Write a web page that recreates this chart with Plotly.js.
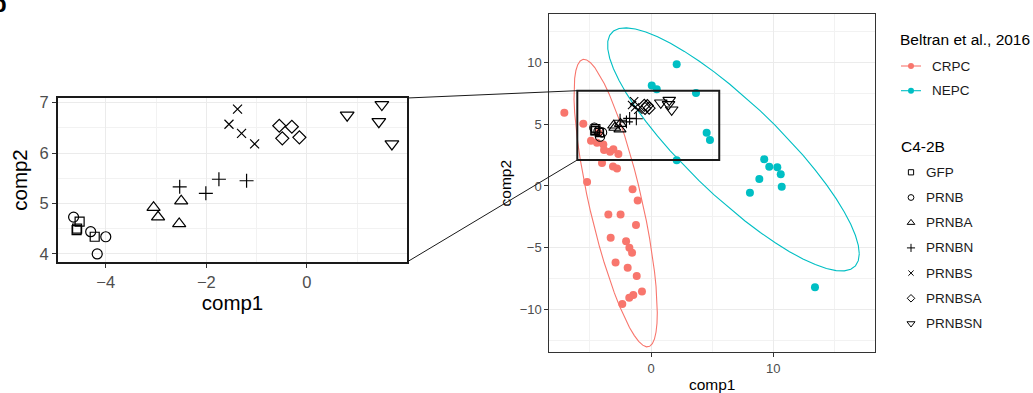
<!DOCTYPE html>
<html><head><meta charset="utf-8">
<script src="https://cdn.plot.ly/plotly-3.0.1.min.js"></script>
<style>html,body{margin:0;padding:0;background:#fff}#chart{width:1033px;height:393px}</style>
</head><body><div id="chart"></div>
<script>
// ---------------- data (the last CRPC point sits under the C4-2B markers) ----------------
const crpcComp1 = [-7.09,-5.54,-4.91,-4.42,-3.90,-3.84,-3.35,-3.08,-2.67,-4.01,-3.11,-2.78,-5.23,-1.51,-1.09,-3.49,-2.49,-1.23,-3.30,-2.04,-1.77,-1.55,-2.90,-1.91,-1.17,-0.74,-1.45,-1.78,-2.35,-4.30];
const crpcComp2 = [5.94,5.05,3.67,3.51,3.37,2.92,2.78,2.98,2.60,1.87,1.58,1.42,0.32,-0.27,-1.18,-2.31,-2.31,-3.16,-4.19,-4.49,-5.00,-5.41,-6.20,-6.63,-7.30,-8.56,-8.84,-9.06,-9.57,4.30];
const nepcComp1 = [2.10,0.06,0.47,3.68,4.55,4.82,2.10,9.26,9.67,10.33,10.61,8.86,10.69,8.09,13.41];
const nepcComp2 = [9.87,8.15,7.84,7.54,4.32,3.73,2.08,2.17,1.57,1.52,0.95,0.57,-0.06,-0.54,-8.22];

const c42bGroups = ['GFP','PRNB','PRNBA','PRNBN','PRNBS','PRNBSA','PRNBSN'];
const gfpComp1    = [-4.52,-4.58,-4.57,-4.22];
const gfpComp2    = [4.64,4.47,4.50,4.34];
const prnbComp1   = [-4.64,-4.30,-4.00,-4.17];
const prnbComp2   = [4.73,4.44,4.34,4.00];
const prnbaComp1  = [-3.05,-2.96,-2.50,-2.54];
const prnbaComp2  = [4.92,4.73,5.05,4.60];
const prnbnComp1  = [-2.53,-2.01,-1.75,-1.20];
const prnbnComp2  = [5.33,5.20,5.48,5.45];
const prnbsComp1  = [-1.55,-1.38,-1.30,-1.04];
const prnbsComp2  = [6.57,6.87,6.39,6.18];
const prnbsaComp1 = [-0.55,-0.49,-0.30,-0.15];
const prnbsaComp2 = [6.54,6.29,6.52,6.31];
const prnbsnComp1 = [0.80,1.49,1.43,1.69];
const prnbsnComp2 = [6.75,6.96,6.62,6.18];

const beltranGroups = ['CRPC','NEPC'];
const zoomBoxComp1 = [-6.03, 5.58];
const zoomBoxComp2 = [2.11, 7.73];

// ---------------- styling ----------------
const W = 1033, H = 393;
const RED = '#F8766D', TEAL = '#00BFC4';
const FONT = 'Liberation Sans, Arial, sans-serif';
const groupX = [gfpComp1, prnbComp1, prnbaComp1, prnbnComp1, prnbsComp1, prnbsaComp1, prnbsnComp1];
const groupY = [gfpComp2, prnbComp2, prnbaComp2, prnbnComp2, prnbsComp2, prnbsaComp2, prnbsnComp2];
const symbols = ['square-open','circle-open','triangle-up-open','cross-thin-open','x-thin-open','diamond-open','triangle-down-open'];
const symSize = [9,10,11.5,10,9,10,12];

const dom = {
  x1: [58/W, 407/W], y1: [1-262/H, 1-98/H],
  x2: [549.3/W, 875/W], y2: [1-352.3/H, 1-14/H]
};
const rng = { x1: [-4.95, 1.99], y1: [3.84, 7.09], x2: [-8.32, 18.32], y2: [-13.49, 13.95] };

// ---------------- stat_ellipse (type "t", level 0.95) ----------------
function covTrob(xs, ys, nu, maxit, tol) {
  nu = nu || 5; maxit = maxit || 25; tol = tol || 0.01;
  const n = xs.length, p = 2;
  let lx = xs.reduce((a,b)=>a+b,0)/n, ly = ys.reduce((a,b)=>a+b,0)/n;
  let w = new Array(n).fill(1), X = [];
  for (let it = 0; it < maxit; it++) {
    const w0 = w.slice();
    X = xs.map((x,i)=>[x-lx, ys[i]-ly]);
    const sw = w.reduce((a,b)=>a+b,0);
    let s11=0,s12=0,s22=0;
    for (let i=0;i<n;i++){ const f=w[i]/sw; s11+=f*X[i][0]*X[i][0]; s12+=f*X[i][0]*X[i][1]; s22+=f*X[i][1]*X[i][1]; }
    const det = s11*s22-s12*s12;
    const Q = X.map(v => (s22*v[0]*v[0] - 2*s12*v[0]*v[1] + s11*v[1]*v[1])/det);
    w = Q.map(q => (nu+p)/(nu+q));
    const sw2 = w.reduce((a,b)=>a+b,0);
    lx = xs.reduce((a,x,i)=>a+w[i]*x,0)/sw2;
    ly = ys.reduce((a,y,i)=>a+w[i]*y,0)/sw2;
    if (w.every((v,i)=>Math.abs(v-w0[i])<tol)) break;
  }
  let c11=0,c12=0,c22=0;
  for (let i=0;i<n;i++){ c11+=w[i]*X[i][0]*X[i][0]; c12+=w[i]*X[i][0]*X[i][1]; c22+=w[i]*X[i][1]*X[i][1]; }
  return {cx:lx, cy:ly, c11:c11/n, c12:c12/n, c22:c22/n};
}
function ellipse(xs, ys) {
  const level = 0.95, segments = 51;
  const v = covTrob(xs, ys);
  const dfd = xs.length - 1;
  const qf = dfd/2*(Math.pow(1-level, -2/dfd) - 1);
  const radius = Math.sqrt(2*qf);
  const r11 = Math.sqrt(v.c11), r12 = v.c12/r11, r22 = Math.sqrt(v.c22 - r12*r12);
  const ex = [], ey = [];
  for (let k=0;k<=segments;k++){ const a=k*2*Math.PI/segments;
    ex.push(v.cx + radius*Math.cos(a)*r11);
    ey.push(v.cy + radius*(Math.cos(a)*r12 + Math.sin(a)*r22)); }
  return {ex, ey};
}

const traces = [];
// right panel: coloured samples
traces.push({x: crpcComp1, y: crpcComp2, xaxis:'x2', yaxis:'y2', mode:'markers', type:'scatter',
  marker:{color:RED, size:8}, hoverinfo:'skip', showlegend:false});
traces.push({x: nepcComp1, y: nepcComp2, xaxis:'x2', yaxis:'y2', mode:'markers', type:'scatter',
  marker:{color:TEAL, size:8}, hoverinfo:'skip', showlegend:false});
const eR = ellipse(crpcComp1, crpcComp2), eT = ellipse(nepcComp1, nepcComp2);
traces.push({x: eR.ex, y: eR.ey, xaxis:'x2', yaxis:'y2', mode:'lines', type:'scatter', line:{color:RED, width:1.1}, hoverinfo:'skip', showlegend:false});
traces.push({x: eT.ex, y: eT.ey, xaxis:'x2', yaxis:'y2', mode:'lines', type:'scatter', line:{color:TEAL, width:1.1}, hoverinfo:'skip', showlegend:false});
// C4-2B samples on both panels
c42bGroups.forEach((g,i) => {
  traces.push({x: groupX[i], y: groupY[i], xaxis:'x2', yaxis:'y2', mode:'markers', type:'scatter', name:g,
    marker:{symbol:symbols[i], size:symSize[i]*0.92, color:'#000', line:{color:'#000', width:1.1}}, hoverinfo:'skip', showlegend:false});
  traces.push({x: groupX[i], y: groupY[i], xaxis:'x', yaxis:'y', mode:'markers', type:'scatter', name:g,
    marker:{symbol:symbols[i], size:symSize[i], color:'#000', line:{color:'#000', width:1.2}}, hoverinfo:'skip', showlegend:false});
});

// ---------------- manual legend (pixel-space axis x3/y3) ----------------
const annotations = [];
const legFont = {family:FONT, size:13.5, color:'#1a1a1a'};
const titleFont = {family:FONT, size:15.5, color:'#000'};
annotations.push({xref:'x3', yref:'y3', x:898, y:39, text:'Beltran et al., 2016', showarrow:false, xanchor:'left', yanchor:'middle', font:titleFont});
[RED, TEAL].forEach((c,i) => {
  const yy = 66 + 24.7*i;
  traces.push({x:[901,921], y:[yy,yy], xaxis:'x3', yaxis:'y3', mode:'lines', type:'scatter', line:{color:c, width:1.1}, hoverinfo:'skip', showlegend:false});
  traces.push({x:[911], y:[yy], xaxis:'x3', yaxis:'y3', mode:'markers', type:'scatter', marker:{color:c, size:6}, hoverinfo:'skip', showlegend:false});
  annotations.push({xref:'x3', yref:'y3', x:930, y:yy, text:beltranGroups[i], showarrow:false, xanchor:'left', yanchor:'middle', font:legFont});
});
annotations.push({xref:'x3', yref:'y3', x:899, y:146, text:'C4-2B', showarrow:false, xanchor:'left', yanchor:'middle', font:titleFont});
c42bGroups.forEach((g,i) => {
  const yy = 172.3 + 25.2*i;
  traces.push({x:[911], y:[yy], xaxis:'x3', yaxis:'y3', mode:'markers', type:'scatter',
    marker:{symbol:symbols[i], size:symSize[i]*0.58, color:'#000', line:{color:'#000', width:1}}, hoverinfo:'skip', showlegend:false});
  annotations.push({xref:'x3', yref:'y3', x:924, y:yy, text:g, showarrow:false, xanchor:'left', yanchor:'middle', font:legFont});
});
// panel tag (partly outside the picture, as in the reference)
annotations.push({xref:'x3', yref:'y3', x:9, y:3, text:'<b>b</b>', showarrow:false, xanchor:'right', yanchor:'middle', font:{family:FONT, size:24, color:'#000'}});

// ---------------- zoom box + connectors ----------------
function px(v, ax) { const d = dom[ax], r = rng[ax]; return d[0] + (v - r[0])/(r[1]-r[0])*(d[1]-d[0]); }
const shapes = [
  {type:'rect', xref:'x2', yref:'y2', x0:zoomBoxComp1[0], x1:zoomBoxComp1[1], y0:zoomBoxComp2[0], y1:zoomBoxComp2[1], line:{color:'#1a1a1a', width:2}},
  {type:'line', xref:'paper', yref:'paper', x0:dom.x1[1], y0:dom.y1[1], x1:px(zoomBoxComp1[0],'x2'), y1:px(zoomBoxComp2[1],'y2'), line:{color:'#1a1a1a', width:1}},
  {type:'line', xref:'paper', yref:'paper', x0:dom.x1[1], y0:dom.y1[0], x1:px(zoomBoxComp1[0],'x2'), y1:px(zoomBoxComp2[0],'y2'), line:{color:'#1a1a1a', width:1}}
];

const GRID = '#EBEBEB', MINOR = '#F2F2F2';
function axis(extra) {
  return Object.assign({showline:true, mirror:true, ticks:'outside', ticklen:4, tickwidth:1, tickcolor:'#333',
    zeroline:false, showgrid:true, gridcolor:GRID, gridwidth:1, automargin:false, fixedrange:true}, extra);
}
const layout = {
  width: W, height: H, margin:{l:0,r:0,t:0,b:0}, paper_bgcolor:'#fff', plot_bgcolor:'rgba(0,0,0,0)',
  showlegend:false, font:{family:FONT},
  xaxis: axis({domain:dom.x1, range:rng.x1, anchor:'y', tick0:0, dtick:2, linecolor:'#1a1a1a', linewidth:2,
    tickfont:{size:16.5, color:'#4D4D4D'}, title:{text:'comp1', font:{size:20.5, color:'#000'}, standoff:6},
    minor:{dtick:1, tick0:0, showgrid:true, gridcolor:MINOR, gridwidth:1, ticks:''}}),
  yaxis: axis({domain:dom.y1, range:rng.y1, anchor:'x', tick0:0, dtick:1, linecolor:'#1a1a1a', linewidth:2,
    tickfont:{size:16.5, color:'#4D4D4D'}, title:{text:'comp2', font:{size:20.5, color:'#000'}, standoff:6},
    minor:{dtick:0.5, tick0:0, showgrid:true, gridcolor:MINOR, gridwidth:1, ticks:''}}),
  xaxis2: axis({domain:dom.x2, range:rng.x2, anchor:'y2', tick0:0, dtick:10, linecolor:'#333', linewidth:1,
    tickfont:{size:13, color:'#4D4D4D'}, title:{text:'comp1', font:{size:15.5, color:'#000'}, standoff:4},
    minor:{dtick:5, tick0:0, showgrid:true, gridcolor:MINOR, gridwidth:1, ticks:''}}),
  yaxis2: axis({domain:dom.y2, range:rng.y2, anchor:'x2', tick0:0, dtick:5, linecolor:'#333', linewidth:1,
    tickfont:{size:13, color:'#4D4D4D'}, title:{text:'comp2', font:{size:15.5, color:'#000'}, standoff:4},
    minor:{dtick:2.5, tick0:0, showgrid:true, gridcolor:MINOR, gridwidth:1, ticks:''}}),
  xaxis3: {domain:[0,1], range:[0,W], anchor:'y3', visible:false, fixedrange:true},
  yaxis3: {domain:[0,1], range:[H,0], anchor:'x3', visible:false, fixedrange:true},
  shapes: shapes, annotations: annotations
};
Plotly.newPlot('chart', traces, layout, {staticPlot:true, displayModeBar:false});
</script></body></html>
